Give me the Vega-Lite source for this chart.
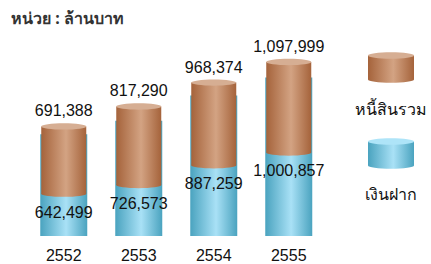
{
  "$schema": "https://vega.github.io/schema/vega-lite/v6.json",
  "background": "white",
  "padding": {"left": 11, "top": 11, "right": 2, "bottom": 2},
  "title": {"text": "หน่วย : ล้านบาท", "anchor": "start", "fontSize": 16, "font": "Tahoma, Noto Sans, sans-serif", "fontWeight": "bold", "color": "#333333", "offset": 3},
  "config": {"view": {"stroke": null}, "font": "Tahoma, Liberation Sans, sans-serif"},
  "spacing": 20,
  "hconcat": [
    {
      "width": 324,
      "height": 206,
      "data": {"values": [
        {"year": "2552", "liab": 691388, "dep": 642499, "liab_base": 267000},
        {"year": "2553", "liab": 817290, "dep": 726573, "liab_base": 322000},
        {"year": "2554", "liab": 968374, "dep": 887259, "liab_base": 446000},
        {"year": "2555", "liab": 1097999, "dep": 1000857, "liab_base": 527000}
      ]},
      "encoding": {
        "x": {"field": "year", "type": "nominal", "sort": null,
              "scale": {"paddingInner": 0.3, "paddingOuter": 0.31, "align": 0.57},
              "axis": {"title": null, "labelAngle": 0, "ticks": false, "domain": false, "labelFontSize": 16, "labelColor": "#111111", "labelPadding": 11, "labelFont": "Liberation Sans"}}
      },
      "layer": [
        {
          "mark": {"type": "bar", "width": 47, "fill": {"gradient": "linear", "x1": 0, "x2": 1, "y1": 0, "y2": 0, "stops": [{"offset": 0, "color": "#4aa3bf"}, {"offset": 0.55, "color": "#a9e1f6"}, {"offset": 1, "color": "#4aa3bf"}]}},
          "encoding": {"y": {"field": "dep", "type": "quantitative", "scale": {"domain": [0, 1277000]}, "axis": null}, "y2": {"datum": 0}}
        },
        {
          "mark": {"type": "point", "filled": true, "opacity": 1, "size": 2025, "shape": "M-1,0 A1,0.14 0 1,1 1,0 A1,0.14 0 1,1 -1,0 Z", "fill": {"gradient": "linear", "x1": 0, "x2": 1, "y1": 0, "y2": 0, "stops": [{"offset": 0, "color": "#a5633b"}, {"offset": 0.55, "color": "#d3a383"}, {"offset": 1, "color": "#a5633b"}]}},
          "encoding": {"y": {"field": "liab_base", "type": "quantitative"}}
        },
        {
          "mark": {"type": "bar", "width": 45, "fill": {"gradient": "linear", "x1": 0, "x2": 1, "y1": 0, "y2": 0, "stops": [{"offset": 0, "color": "#a5633b"}, {"offset": 0.55, "color": "#d3a383"}, {"offset": 1, "color": "#a5633b"}]}},
          "encoding": {"y": {"field": "liab", "type": "quantitative"}, "y2": {"field": "liab_base"}}
        },
        {
          "mark": {"type": "point", "filled": true, "opacity": 1, "size": 2025, "shape": "M-1,0 A1,0.14 0 1,1 1,0 A1,0.14 0 1,1 -1,0 Z", "fill": "#d6ae93"},
          "encoding": {"y": {"field": "liab", "type": "quantitative"}}
        },
        {
          "mark": {"type": "rule", "color": "#a8935f", "strokeWidth": 5},
          "encoding": {"y": {"datum": 0}}
        },
        {
          "mark": {"type": "text", "fontSize": 16, "font": "Liberation Sans", "color": "#111111", "baseline": "bottom", "dy": -7},
          "encoding": {"y": {"field": "liab", "type": "quantitative"}, "text": {"field": "liab", "type": "quantitative", "format": ","}}
        },
        {
          "mark": {"type": "text", "fontSize": 16, "font": "Liberation Sans", "color": "#111111", "baseline": "middle", "dy": 19},
          "encoding": {"y": {"field": "liab_base", "type": "quantitative"}, "text": {"field": "dep", "type": "quantitative", "format": ","}}
        }
      ]
    },
    {
      "width": 60,
      "height": 170,
      "data": {"values": [
        {"series": "หนี้สินรวม", "kind": "liab"},
        {"series": "เงินฝาก", "kind": "dep"}
      ]},
      "encoding": {
        "x": {"datum": "legend", "type": "nominal", "axis": null},
        "y": {"field": "series", "type": "nominal", "sort": null, "axis": null, "scale": {"paddingInner": 0, "paddingOuter": 0}}
      },
      "layer": [
        {
          "transform": [{"filter": "datum.kind == 'liab'"}],
          "layer": [
            {"mark": {"type": "bar", "width": 46, "height": 24, "yOffset": -5, "fill": {"gradient": "linear", "x1": 0, "x2": 1, "y1": 0, "y2": 0, "stops": [{"offset": 0, "color": "#a5633b"}, {"offset": 0.55, "color": "#d3a383"}, {"offset": 1, "color": "#a5633b"}]}}},
            {"mark": {"type": "point", "filled": true, "opacity": 1, "size": 2116, "yOffset": 7, "shape": "M-1,0 A1,0.14 0 1,1 1,0 A1,0.14 0 1,1 -1,0 Z", "fill": {"gradient": "linear", "x1": 0, "x2": 1, "y1": 0, "y2": 0, "stops": [{"offset": 0, "color": "#a5633b"}, {"offset": 0.55, "color": "#d3a383"}, {"offset": 1, "color": "#a5633b"}]}}},
            {"mark": {"type": "point", "filled": true, "opacity": 1, "size": 2116, "yOffset": -17, "shape": "M-1,0 A1,0.14 0 1,1 1,0 A1,0.14 0 1,1 -1,0 Z", "fill": "#d6ae93"}}
          ]
        },
        {
          "transform": [{"filter": "datum.kind == 'dep'"}],
          "layer": [
            {"mark": {"type": "bar", "width": 46, "height": 24, "yOffset": -4, "fill": {"gradient": "linear", "x1": 0, "x2": 1, "y1": 0, "y2": 0, "stops": [{"offset": 0, "color": "#4aa3bf"}, {"offset": 0.55, "color": "#a9e1f6"}, {"offset": 1, "color": "#4aa3bf"}]}}},
            {"mark": {"type": "point", "filled": true, "opacity": 1, "size": 2116, "yOffset": 8, "shape": "M-1,0 A1,0.14 0 1,1 1,0 A1,0.14 0 1,1 -1,0 Z", "fill": {"gradient": "linear", "x1": 0, "x2": 1, "y1": 0, "y2": 0, "stops": [{"offset": 0, "color": "#4aa3bf"}, {"offset": 0.55, "color": "#a9e1f6"}, {"offset": 1, "color": "#4aa3bf"}]}}},
            {"mark": {"type": "point", "filled": true, "opacity": 1, "size": 2116, "yOffset": -16, "shape": "M-1,0 A1,0.14 0 1,1 1,0 A1,0.14 0 1,1 -1,0 Z", "fill": "#aee4f8"}}
          ]
        },
        {
          "mark": {"type": "text", "fontSize": 16, "font": "Tahoma, Noto Sans, sans-serif", "color": "#111111", "baseline": "middle", "dy": 37},
          "encoding": {"text": {"field": "series"}}
        }
      ]
    }
  ]
}
